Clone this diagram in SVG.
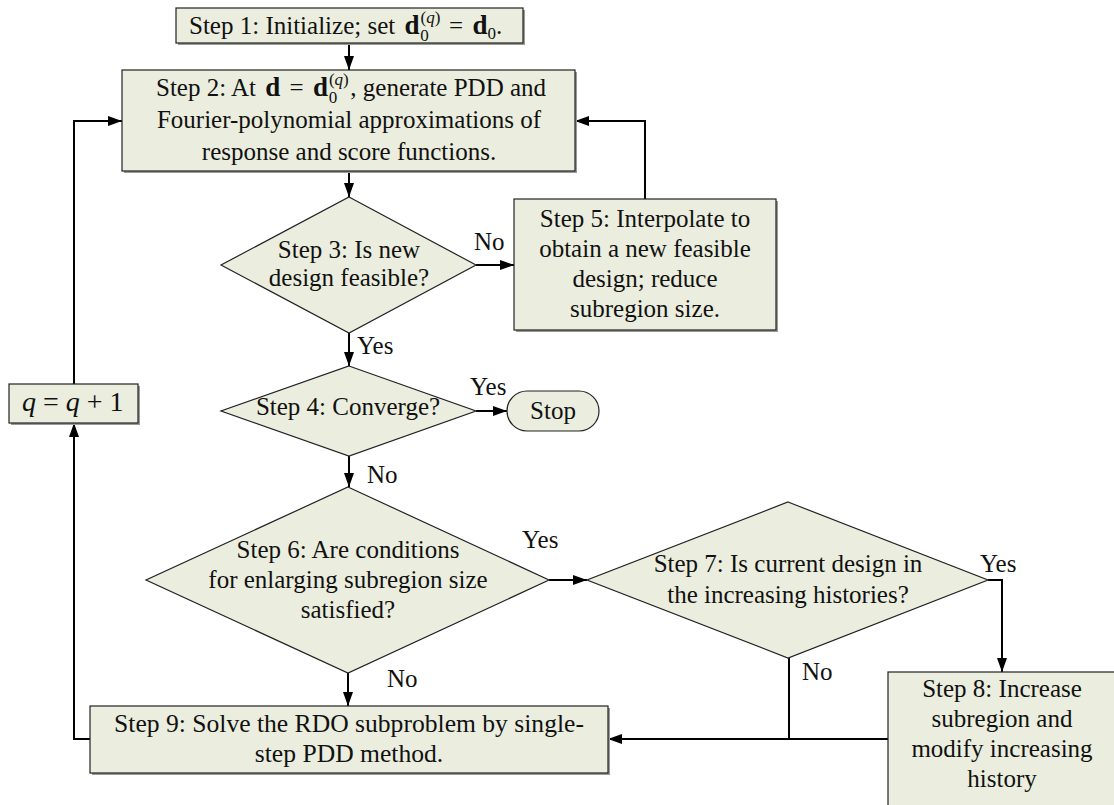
<svg xmlns="http://www.w3.org/2000/svg" width="1114" height="805" viewBox="0 0 1114 805" font-family="'Liberation Serif', 'Times New Roman', serif">
<defs>
<marker id="arr" viewBox="0 0 14 10" refX="14" refY="5" markerWidth="14" markerHeight="10" markerUnits="userSpaceOnUse" orient="auto">
<path d="M0,0 L14,5 L0,10 z" fill="#000"/>
</marker>
</defs>
<style>
.box{fill:#EBEEDE;stroke:#222;stroke-width:1.2}
.sh{fill:#9a9a9a}
text{font-family:'Liberation Serif','Times New Roman',serif;font-size:25px;fill:#111}
.c{text-anchor:middle}
.b{font-weight:bold;font-size:27px}
.i{font-style:italic}
.s{font-size:17px}
.ln{fill:none;stroke:#000;stroke-width:2}
</style>
<rect width="1114" height="805" fill="#fff"/>

<g id="connectors">
<path class="ln" d="M349,43 V70" marker-end="url(#arr)"/>
<path class="ln" d="M349,171 V197" marker-end="url(#arr)"/>
<path class="ln" d="M476,265 H514" marker-end="url(#arr)"/>
<path class="ln" d="M645,199 V121 H575" marker-end="url(#arr)"/>
<path class="ln" d="M349,333 V366" marker-end="url(#arr)"/>
<path class="ln" d="M476,411 H507" marker-end="url(#arr)"/>
<path class="ln" d="M349,456 V487" marker-end="url(#arr)"/>
<path class="ln" d="M549,580 H587" marker-end="url(#arr)"/>
<path class="ln" d="M988,580 H1002 V672" marker-end="url(#arr)"/>
<path class="ln" d="M348,673 V706" marker-end="url(#arr)"/>
<path class="ln" d="M888,739 H608" marker-end="url(#arr)"/>
<path class="ln" d="M789,658 V739"/>
<path class="ln" d="M90,739 H74 V423" marker-end="url(#arr)"/>
<path class="ln" d="M74,384 V121 H122" marker-end="url(#arr)"/>
<text x="474" y="250">No</text>
<text x="357" y="354">Yes</text>
<text x="470" y="395">Yes</text>
<text x="367" y="483">No</text>
<text x="522" y="548">Yes</text>
<text x="980" y="572">Yes</text>
<text x="387" y="687">No</text>
<text x="802" y="680">No</text>
</g>

<g id="step1">
<rect class="sh" x="178" y="10" width="347" height="35"/>
<rect class="box" x="176" y="8" width="347" height="35"/>
<text x="189" y="34">Step 1: Initialize; set <tspan class="b" dx="3">d</tspan><tspan class="s" dx="1" dy="-11">(<tspan class="i">q</tspan>)</tspan><tspan class="s" dx="-20" dy="18">0</tspan><tspan dx="11" dy="-7"> </tspan><tspan dx="3">=</tspan><tspan dx="3"> </tspan><tspan class="b">d</tspan><tspan class="s" dy="5">0</tspan><tspan dy="-5">.</tspan></text>
</g>

<g id="step2">
<rect class="sh" x="124" y="72" width="453" height="101"/>
<rect class="box" x="122" y="70" width="453" height="101"/>
<text x="156" y="96">Step 2: At <tspan class="b" dx="3">d</tspan><tspan dx="3"> = </tspan><tspan class="b" dx="3">d</tspan><tspan class="s" dx="1" dy="-11">(<tspan class="i">q</tspan>)</tspan><tspan class="s" dx="-20" dy="18">0</tspan><tspan dx="13" dy="-7">, generate PDD and</tspan></text>
<text class="c" x="349" y="128">Fourier-polynomial approximations of</text>
<text class="c" x="349" y="160">response and score functions.</text>
</g>

<g id="step3">
<polygon class="box" points="349,197 476,265 349,333 221,265"/>
<text class="c" x="349" y="258">Step 3: Is new</text>
<text class="c" x="349" y="286">design feasible?</text>
</g>

<g id="step5">
<rect class="sh" x="516" y="201" width="262" height="131"/>
<rect class="box" x="514" y="199" width="262" height="131"/>
<text class="c" x="645" y="227">Step 5: Interpolate to</text>
<text class="c" x="645" y="257">obtain a new feasible</text>
<text class="c" x="645" y="287">design; reduce</text>
<text class="c" x="645" y="317">subregion size.</text>
</g>

<g id="step4">
<polygon class="box" points="349,366 476,411 349,456 221,411"/>
<text class="c" x="348" y="415">Step 4: Converge?</text>
</g>

<g id="stop">
<rect class="box" x="507" y="391" width="92" height="40" rx="20" ry="20"/>
<text class="c" x="553" y="419">Stop</text>
</g>

<g id="q-update">
<rect class="sh" x="11" y="386" width="129" height="39"/>
<rect class="box" x="9" y="384" width="129" height="39"/>
<text style="font-size:28px" x="22" y="411"><tspan class="i">q</tspan> = <tspan class="i">q</tspan> + 1</text>
</g>

<g id="step6">
<polygon class="box" points="348,487 549,580 348,673 146,580"/>
<text class="c" x="348" y="558">Step 6: Are conditions</text>
<text class="c" x="348" y="588">for enlarging subregion size</text>
<text class="c" x="348" y="618">satisfied?</text>
</g>

<g id="step7">
<polygon class="box" points="788,502 988,580 788,658 587,580"/>
<text class="c" x="788" y="572">Step 7: Is current design in</text>
<text class="c" x="788" y="603">the increasing histories?</text>
</g>

<g id="step8">
<rect class="box" x="888" y="672" width="232" height="150"/>
<text class="c" x="1002" y="697">Step 8: Increase</text>
<text class="c" x="1002" y="727">subregion and</text>
<text class="c" x="1002" y="757">modify increasing</text>
<text class="c" x="1002" y="787">history</text>
</g>

<g id="step9">
<rect class="sh" x="92" y="708" width="518" height="67"/>
<rect class="box" x="90" y="706" width="518" height="67"/>
<text class="c" style="font-size:25.6px" x="349" y="732">Step 9: Solve the RDO subproblem by single-</text>
<text class="c" style="font-size:25.6px" x="349" y="762">step PDD method.</text>
</g>
</svg>
